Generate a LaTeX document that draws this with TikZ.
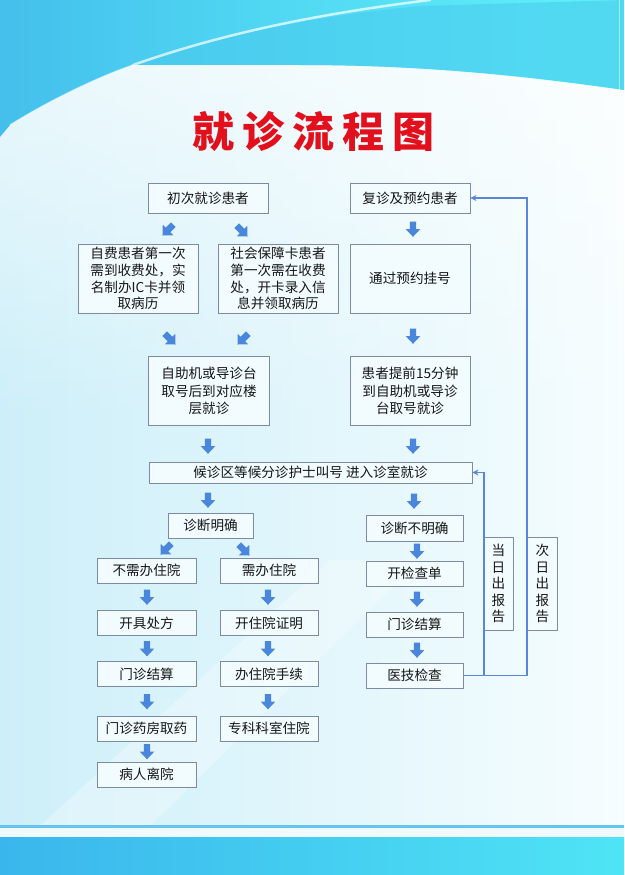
\documentclass[tikz,border=0pt]{standalone}
\usepackage{fontspec}
\newfontfamily\cjk{Noto Sans CJK SC}
\usetikzlibrary{arrows.meta,calc,fadings}
\definecolor{topL}{HTML}{36A2E4}
\definecolor{topM}{HTML}{4FD6F2}
\definecolor{topR}{HTML}{5EEEF8}
\definecolor{bgL}{HTML}{CDEFF9}
\definecolor{bgR}{HTML}{F6FDFE}
\definecolor{boxc}{HTML}{7C8AA4}
\definecolor{boxf}{HTML}{F2FBFE}
\definecolor{arrb}{HTML}{4A87DC}
\definecolor{fbc}{HTML}{5A86D8}
\definecolor{titr}{HTML}{E2101C}
\definecolor{txt}{HTML}{161616}
\definecolor{botL}{HTML}{3AB6EC}
\definecolor{botR}{HTML}{4FE4F5}
\definecolor{linec}{HTML}{62C6EE}
\pgfdeclarehorizontalshading{topsh}{100bp}{color(0bp)=(topL); color(45bp)=(topM); color(70bp)=(topR); color(100bp)=(topR)}
\tikzfading[name=fadedown, top color=transparent!40, bottom color=transparent!100]
\tikzset{
  bx/.style={draw=boxc, fill=boxf, line width=0.9pt, inner sep=0pt, align=center,
     text=txt, font=\cjk\fontsize{13.6}{16.8}\selectfont},
  bx3/.style={bx, font=\cjk\fontsize{13.6}{17.5}\selectfont},
  vlab/.style={bx, minimum width=30, minimum height=93, font=\cjk\fontsize{13.6}{16.5}\selectfont},
  fb/.style={draw=fbc, line width=1.7pt},
  fbarrow/.style={fb, -{Stealth[length=6pt,width=6pt]}},
  barrow/.pic={\fill[arrb] (-3.2,-7.5) -- (3.2,-7.5) -- (3.2,0) -- (7.4,0) -- (0,7.8) -- (-7.4,0) -- (-3.2,0) -- cycle;}
}
\begin{document}
\begin{tikzpicture}[x=1pt,y=-1pt]
\useasboundingbox (0,0) rectangle (624,875);
% background
\fill[left color=bgL, right color=bgR] (0,0) rectangle (624,875);
\fill[white, path fading=fadedown] (0,60) rectangle (624,420);
\fill[white, opacity=0.3] (40,826) -- (330,560) -- (420,560) -- (150,826) -- cycle;
% top swoosh
\shade[shading=topsh] (0,0) -- (624,0) -- (624,90) .. controls (500,72) and (400,65) .. (300,65) -- (133,65)
   .. controls (95,78) and (45,103) .. (10,125) -- (0,137) -- cycle;
\fill[topM!75!topL, opacity=0.55] (133,65) .. controls (210,38) and (300,18) .. (420,6) -- (624,0) -- (624,90)
   .. controls (500,72) and (400,65) .. (300,65) -- cycle;
\draw[white, line width=2.5pt, opacity=0.7, line cap=round] (133,65) .. controls (210,38) and (300,16) .. (430,0);
\draw[white, line width=1.2pt, opacity=0.6] (10,125) .. controls (45,103) and (95,78) .. (133,65);
% bottom band
\fill[white!70!bgL] (0,827) rectangle (624,837);
\fill[linec] (0,824.5) rectangle (624,828);
\fill[left color=botL, right color=botR] (0,837) rectangle (624,875);
\fill[white, opacity=0.5] (619,0) rectangle (620,824);
% title
\node[text=titr, font=\cjk\bfseries\fontsize{42}{42}\selectfont, inner sep=0pt] (title) at (313.5,131)
  {就\kern8pt 诊\kern8pt 流\kern8pt 程\kern8pt 图};
% boxes
\node[bx, minimum width=120, minimum height=30] (cz) at (208,198) {初次就诊患者};
\node[bx, minimum width=120, minimum height=30] (fz) at (410,198) {复诊及预约患者};
\node[bx, minimum width=120, minimum height=69] (zf) at (138,278.5) {自费患者第一次\\需到收费处，实\\名制办IC卡并领\\取病历};
\node[bx, minimum width=120, minimum height=69] (sb) at (278,278.5) {社会保障卡患者\\第一次需在收费\\处，开卡录入信\\息并领取病历};
\node[bx, minimum width=120, minimum height=69] (yy) at (410,278.5) {通过预约挂号};
\node[bx3, minimum width=121, minimum height=69] (zz) at (209,391) {自助机或导诊台\\取号后到对应楼\\层就诊};
\node[bx3, minimum width=120, minimum height=69] (tq) at (410,391) {患者提前15分钟\\到自助机或导诊\\台取号就诊};
\node[bx, minimum width=323, minimum height=21] (hz) at (310.5,472.5) {候诊区等候分诊护士叫号 进入诊室就诊};
\node[bx, minimum width=85, minimum height=25] (mq) at (210.5,525.5) {诊断明确};
\node[bx, minimum width=97, minimum height=26] (bm) at (414.5,528) {诊断不明确};
\node[bx, minimum width=99, minimum height=25] (bx1) at (146.5,570.5) {不需办住院};
\node[bx, minimum width=98, minimum height=25] (xz) at (269,570.5) {需办住院};
\node[bx, minimum width=97, minimum height=25] (kj) at (414.5,573.5) {开检查单};
\node[bx, minimum width=99, minimum height=25] (cf) at (146.5,623) {开具处方};
\node[bx, minimum width=98, minimum height=25] (zm) at (269,623) {开住院证明};
\node[bx, minimum width=97, minimum height=25] (js2) at (414.5,624.5) {门诊结算};
\node[bx, minimum width=99, minimum height=25] (js1) at (146.5,674) {门诊结算};
\node[bx, minimum width=98, minimum height=25] (sx) at (269,674) {办住院手续};
\node[bx, minimum width=97, minimum height=25] (yj) at (414.5,675.5) {医技检查};
\node[bx, minimum width=99, minimum height=25] (yf) at (146.5,728.5) {门诊药房取药};
\node[bx, minimum width=98, minimum height=25] (zk) at (269,728.5) {专科科室住院};
\node[bx, minimum width=99, minimum height=25] (lk) at (146.5,774.5) {病人离院};
% report labels
\node[vlab] (dr) at (498.5,583.5) {当\\日\\出\\报\\告};
\node[vlab] (cr) at (542.5,583.5) {次\\日\\出\\报\\告};
% feedback connectors
\coordinate (j1) at (484,675.5);
\coordinate (j2) at (527,675.5);
\draw[fb] (yj.east) -- (j2);
\draw[fbarrow] (j1) |- (hz.east);
\draw[fbarrow] (j2) |- (fz.east);
% block arrows
\pic[rotate=-45] at (168,230) {barrow};
\pic[rotate=45] at (242,231) {barrow};
\pic at (413,229) {barrow};
\pic[rotate=45] at (170,339) {barrow};
\pic[rotate=-45] at (243,339) {barrow};
\pic at (413,336) {barrow};
\pic at (208,446) {barrow};
\pic at (413,446) {barrow};
\pic at (208,500) {barrow};
\pic at (414,501) {barrow};
\pic[rotate=-45] at (166,549) {barrow};
\pic[rotate=45] at (244,550) {barrow};
\pic at (417,551) {barrow};
\pic at (147,597) {barrow};
\pic at (268,597) {barrow};
\pic at (417,599) {barrow};
\pic at (147,648.5) {barrow};
\pic at (268,648.5) {barrow};
\pic at (417,650) {barrow};
\pic at (147,701.5) {barrow};
\pic at (268,701.5) {barrow};
\pic at (147,751.5) {barrow};
\end{tikzpicture}
\end{document}
